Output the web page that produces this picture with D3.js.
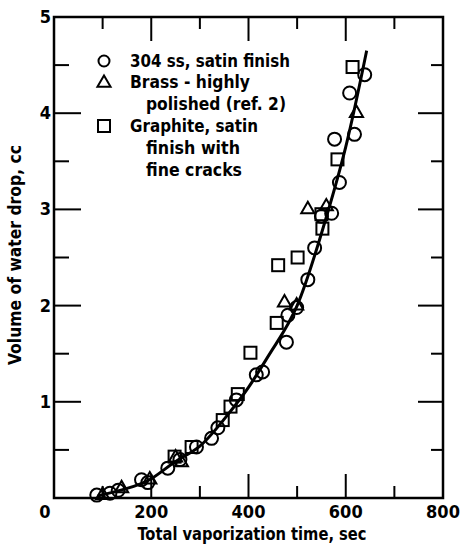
<!DOCTYPE html>
<meta charset="utf-8">
<style>
body { margin: 0; background: #fff; }
svg { font-family: "DejaVu Sans Condensed", "DejaVu Sans", sans-serif; font-stretch: condensed; font-weight: bold; }
</style>
<svg width="461" height="549"></svg>
<script src="https://d3js.org/d3.v7.min.js"></script>
<script>
// data: [time (sec), volume (cc)]
var steel = [[88,0.03],[115,0.05],[132,0.08],[180,0.19],[193,0.16],[234,0.31],[259,0.40],[293,0.53],
  [324,0.62],[337,0.73],[375,1.02],[416,1.28],[429,1.31],[478,1.62],[481,1.9],[499,1.98],[522,2.27],
  [536,2.6],[550,2.93],[571,2.96],[587,3.28],[577,3.73],[618,3.78],[608,4.21],[639,4.4]];
var brass = [[100,0.03],[139,0.1],[197,0.19],[250,0.42],[262,0.37],[474,2.03],[499,2.0],[522,3.0],[560,3.03],[622,4.0]];
var graphite = [[248,0.43],[283,0.53],[347,0.81],[363,0.95],[378,1.08],[404,1.51],[458,1.82],[461,2.42],
  [501,2.5],[552,2.8],[550,2.95],[583,3.52],[614,4.48]];
var fit = [[90,0.02],[150,0.1],[200,0.2],[250,0.38],[300,0.54],[350,0.82],[400,1.15],[450,1.55],
  [500,2.0],[550,2.75],[600,3.65],[643,4.65]];
var xTicks = [0, 200, 400, 600, 800];
var yTicks = [1, 2, 3, 4, 5];
var legendLines = ["304 ss, satin finish", "Brass - highly", "polished (ref. 2)", "Graphite, satin", "finish with", "fine cracks"];

var svg = d3.select("svg");
var pLeft = 54, pRight = 443, pTop = 17, pBottom = 498;

var x = d3.scaleLinear().domain([0, 800]).range([pLeft, pRight]);
var y = d3.scaleLinear().domain([0, 5]).range([pBottom, pTop]);

// frame
svg.append("rect")
    .attr("x", pLeft).attr("y", pTop)
    .attr("width", pRight - pLeft).attr("height", pBottom - pTop)
    .attr("fill", "none").attr("stroke", "#000").attr("stroke-width", 2.5);

// inward ticks on all four sides
var g = svg.append("g").attr("stroke", "#000").attr("stroke-width", 2);
d3.range(100, 800, 100).forEach(function(v) {
  var len = v % 200 === 0 ? 24 : 12;
  g.append("line").attr("x1", x(v)).attr("x2", x(v)).attr("y1", pBottom).attr("y2", pBottom - len);
  g.append("line").attr("x1", x(v)).attr("x2", x(v)).attr("y1", pTop).attr("y2", pTop + len);
});
d3.range(0.5, 5, 0.5).forEach(function(v) {
  var major = Math.abs(v - Math.round(v)) < 0.01;
  g.append("line").attr("x1", pLeft).attr("x2", pLeft + (major ? 27 : 15)).attr("y1", y(v)).attr("y2", y(v));
  g.append("line").attr("x1", pRight).attr("x2", pRight - (major ? 25 : 12)).attr("y1", y(v)).attr("y2", y(v));
});

// tick labels
svg.selectAll(".xl").data(xTicks).enter().append("text")
    .attr("x", function(d) { return d === 0 ? x(d) - 9 : x(d); })
    .attr("y", 518)
    .attr("text-anchor", "middle")
    .attr("font-size", 18)
    .text(function(d) { return d; });
svg.selectAll(".yl").data(yTicks).enter().append("text")
    .attr("x", pLeft - 3)
    .attr("y", function(d) { return y(d) + 6; })
    .attr("text-anchor", "end")
    .attr("font-size", 18)
    .text(function(d) { return d; });

// axis titles
svg.append("text")
    .attr("x", 252).attr("y", 540)
    .attr("text-anchor", "middle").attr("font-size", 18)
    .attr("textLength", 229).attr("lengthAdjust", "spacingAndGlyphs")
    .text("Total vaporization time, sec");
svg.append("text")
    .attr("transform", "translate(21,255) rotate(-90)")
    .attr("text-anchor", "middle").attr("font-size", 18)
    .attr("textLength", 220).attr("lengthAdjust", "spacingAndGlyphs")
    .text("Volume of water drop, cc");

// fitted curve
svg.append("path")
    .datum(fit)
    .attr("fill", "none").attr("stroke", "#000").attr("stroke-width", 3)
    .attr("d", d3.line().x(function(d) { return x(d[0]); }).y(function(d) { return y(d[1]); }).curve(d3.curveNatural));

var marks = svg.append("g").attr("fill", "none").attr("stroke", "#000").attr("stroke-width", 2);
var tri = d3.symbol().type(d3.symbolTriangle).size(75);

marks.selectAll(".c").data(steel).enter().append("circle")
    .attr("cx", function(d) { return x(d[0]); })
    .attr("cy", function(d) { return y(d[1]); })
    .attr("r", 6.5);
marks.selectAll(".s").data(graphite).enter().append("rect")
    .attr("x", function(d) { return x(d[0]) - 6; })
    .attr("y", function(d) { return y(d[1]) - 6; })
    .attr("width", 12).attr("height", 12);
marks.selectAll(".t").data(brass).enter().append("path")
    .attr("transform", function(d) { return "translate(" + x(d[0]) + "," + y(d[1]) + ")"; })
    .attr("d", tri);

// legend
var lg = svg.append("g").attr("font-size", 18);
var lineY = [61, 82, 104, 126, 148, 170];
var indent = [0, 0, 16, 0, 16, 16];
var lens = [160, 120, 140, 128, 94, 96];
legendLines.forEach(function(t, i) {
  lg.append("text").attr("x", 130 + indent[i]).attr("y", lineY[i] + 6)
      .attr("textLength", lens[i]).attr("lengthAdjust", "spacingAndGlyphs")
      .text(t);
});
lg.append("circle").attr("cx", 104).attr("cy", lineY[0]).attr("r", 5.5)
    .attr("fill", "none").attr("stroke", "#000").attr("stroke-width", 2);
lg.append("path").attr("transform", "translate(104," + (lineY[1] + 1) + ")").attr("d", tri)
    .attr("fill", "none").attr("stroke", "#000").attr("stroke-width", 2);
lg.append("rect").attr("x", 98).attr("y", lineY[3] - 6).attr("width", 12).attr("height", 12)
    .attr("fill", "none").attr("stroke", "#000").attr("stroke-width", 2);
</script>
